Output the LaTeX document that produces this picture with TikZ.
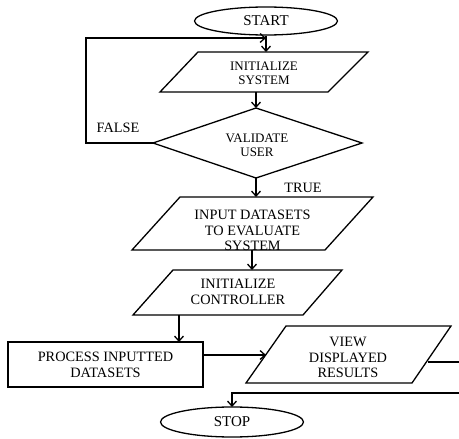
\documentclass[tikz,border=0pt]{standalone}
\usepackage{fontspec}
\setmainfont{Liberation Serif}
\usetikzlibrary{arrows.meta,shapes.geometric}
\begin{document}
\begin{tikzpicture}[x=1pt,y=-1pt,
  line width=1.3pt,
  arr/.style={-{Straight Barb[length=5pt,width=9pt]}},
  lbl/.style={align=center,inner sep=0pt,font=\fontsize{14.3}{15.7}\selectfont},
  lblsm/.style={align=center,inner sep=0pt,font=\fontsize{13}{14}\selectfont},
  term/.style={ellipse,draw,inner sep=0pt,font=\fontsize{15}{16}\selectfont}]
\useasboundingbox (0,0) rectangle (459,439);
\clip (0,0) rectangle (459,439);
% terminals
\node[term,minimum width=143pt,minimum height=28pt] (start) at (266,21) {START};
\node[term,minimum width=143pt,minimum height=30pt] (stop) at (232,422) {STOP};
% initialize system
\draw (198,52) -- (368,52) -- (328,92) -- (160,92) -- cycle;
\node[lblsm] (isys) at (264,73.5) {INITIALIZE\\SYSTEM};
\coordinate (isys-n) at (266,52);
\coordinate (isys-s) at (256,92);
% validate user
\draw (153,143) -- (256,108) -- (362,143) -- (256,178) -- cycle;
\node[lblsm] (val) at (257,145) {VALIDATE\\USER};
\coordinate (val-n) at (256,108);
\coordinate (val-s) at (256,178);
\coordinate (val-w) at (153,143);
% input datasets
\draw (180,197) -- (373,197) -- (325,250) -- (132,250) -- cycle;
\node[lbl] (inp) at (252.5,230.5) {INPUT DATASETS\\TO EVALUATE\\SYSTEM};
\coordinate (inp-n) at (256,197);
\coordinate (inp-s) at (252,250);
% initialize controller
\draw (173,270) -- (342,270) -- (303,315) -- (133,315) -- cycle;
\node[lbl] (ictrl) at (238,292) {INITIALIZE\\CONTROLLER};
\coordinate (ictrl-n) at (252,270);
\coordinate (ictrl-s) at (179,315);
% process
\node[draw,lbl,minimum width=195pt,minimum height=45pt] (proc) at (105.5,364.5) {PROCESS INPUTTED\\DATASETS};
\coordinate (proc-n) at (179,342);
% view displayed results
\draw (286,326) -- (451,326) -- (412,383) -- (246,383) -- cycle;
\node[lbl] (view) at (348,357.5) {VIEW\\DISPLAYED\\RESULTS};
\coordinate (view-w) at (266,355);
\coordinate (view-e) at (428,362);
\coordinate (stop-n) at (232,407);
% loop corners
\coordinate (lp1) at (86,143);
\coordinate (lp2) at (86,38);
\coordinate (lp3) at (266,38);
\coordinate (r1) at (475,362);
\coordinate (r2) at (475,393);
\coordinate (r3) at (232,393);
% connectors
\draw[arr] (start.south) -- (isys-n);
\draw[arr] (val-w) -- (lp1) -- (lp2) -- (lp3);
\draw[arr] (isys-s) -- (val-n);
\draw[arr] (val-s) -- (inp-n);
\draw[arr] (inp-s) -- (ictrl-n);
\draw[arr] (ictrl-s) -- (proc-n);
\draw[arr] (proc.east |- view-w) -- (view-w);
\draw[arr] (view-e) -- (r1) -- (r2) -- (r3) -- (stop-n);
% labels
\node[lbl] (false) at (118,128) {FALSE};
\node[lbl] (true) at (303,188) {TRUE};
\end{tikzpicture}
\end{document}
